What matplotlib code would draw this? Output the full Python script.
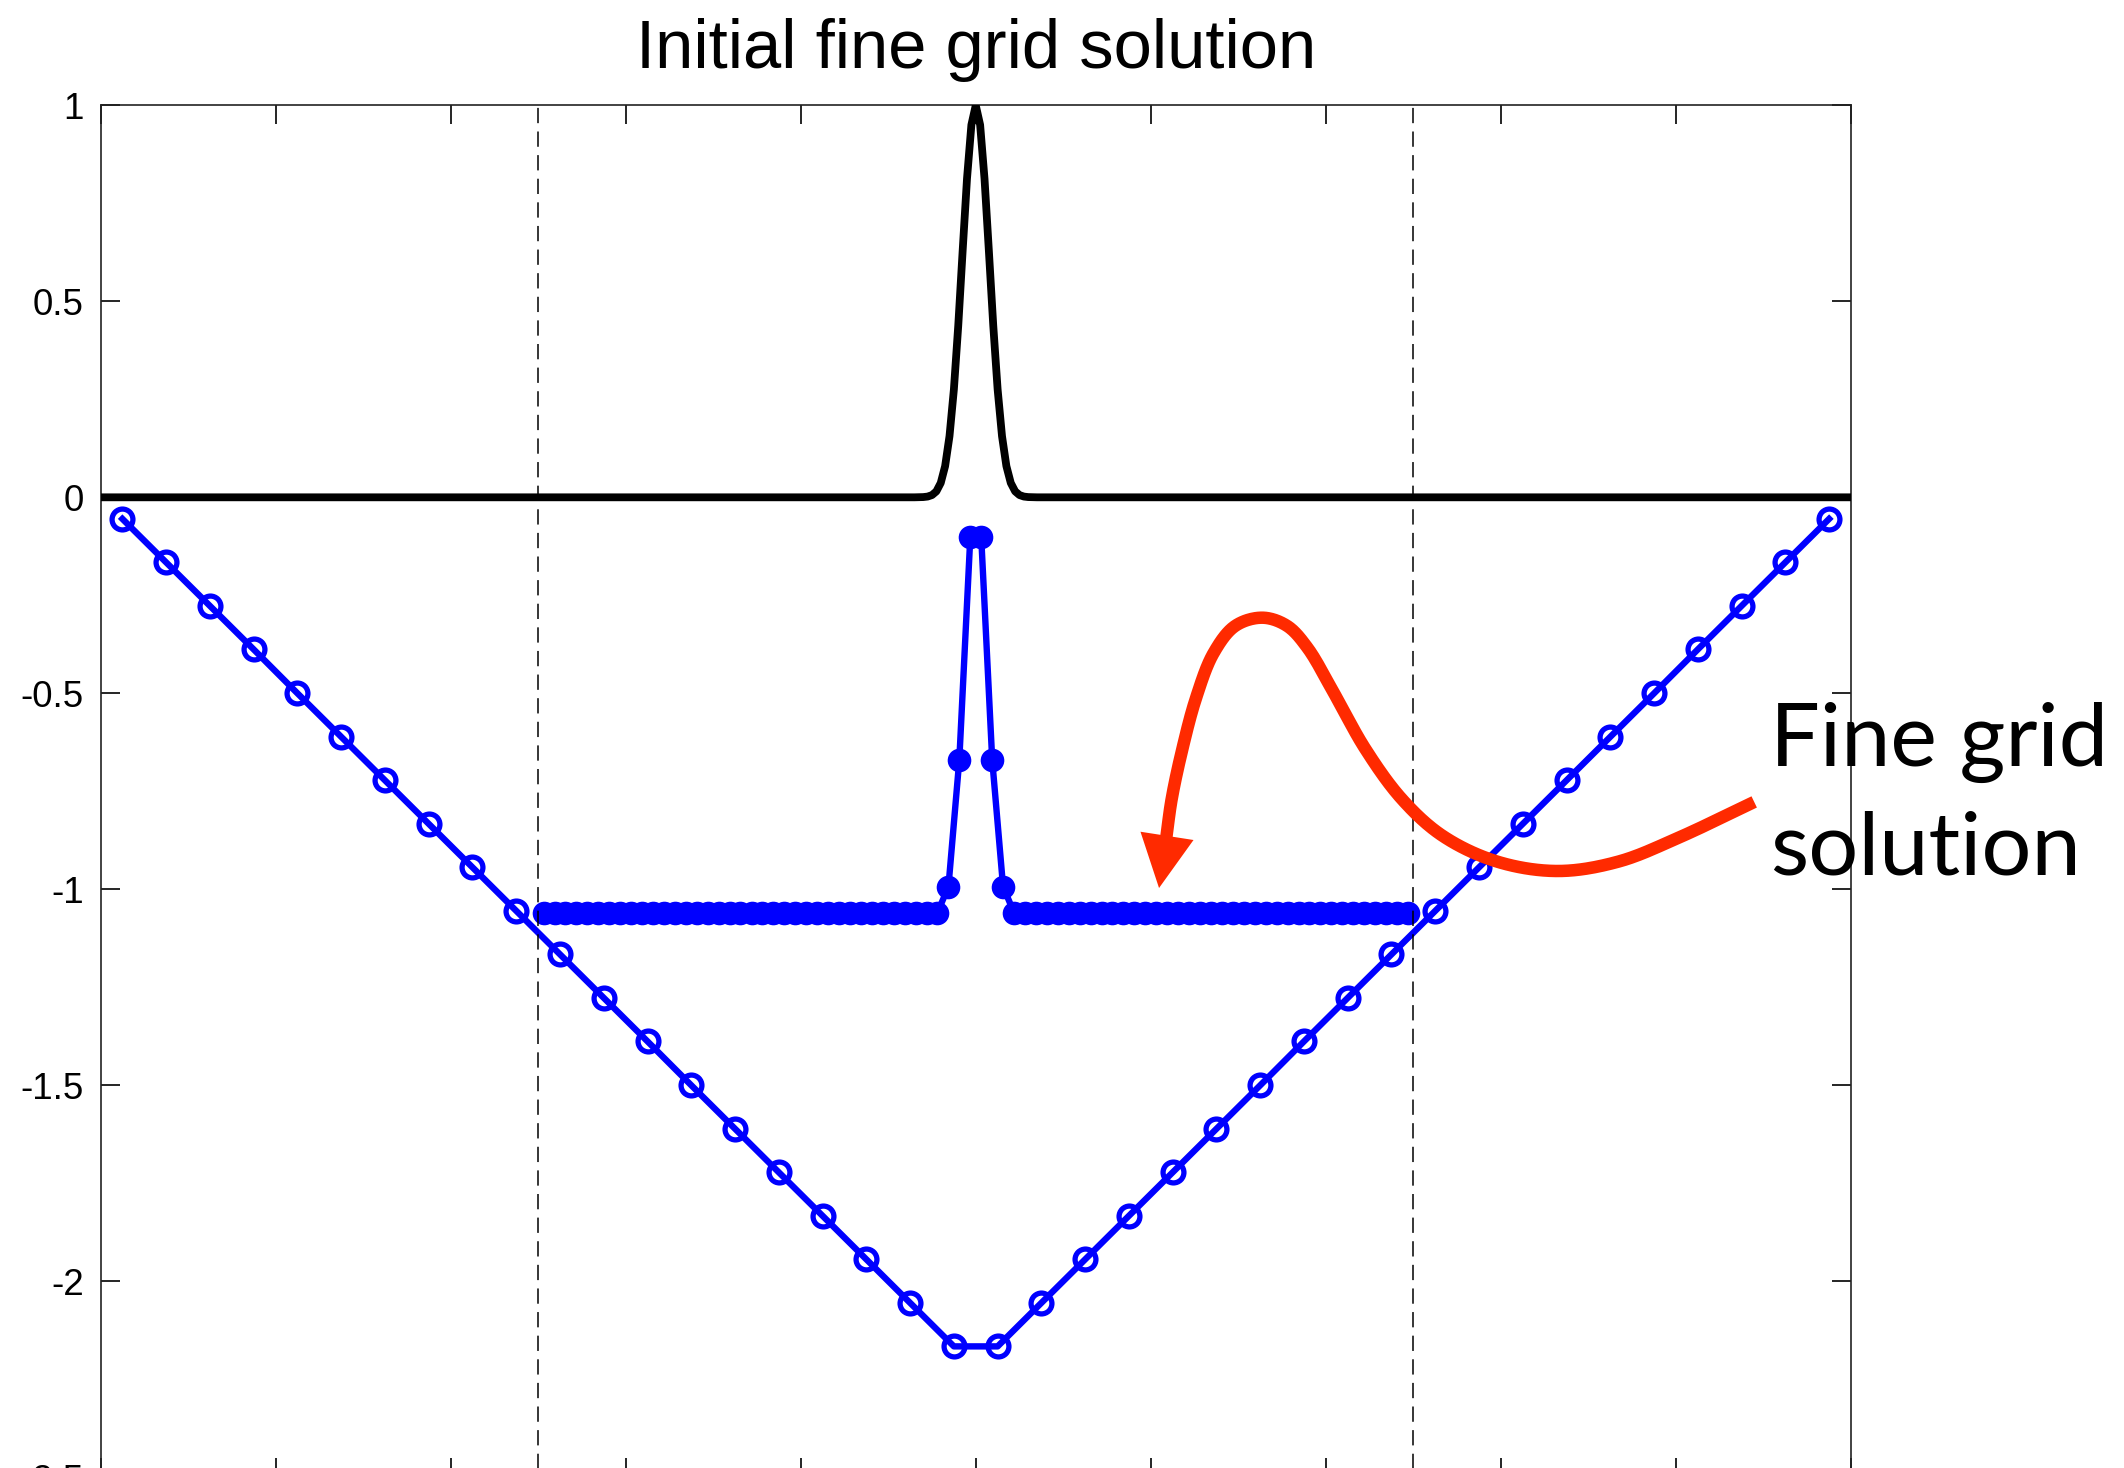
import numpy as np
import matplotlib
matplotlib.use('Agg')
import matplotlib.pyplot as plt

plt.rcParams['axes.unicode_minus'] = False
plt.rcParams['lines.scale_dashes'] = False

# ---------------- data ----------------
title = 'Initial fine grid solution'

coarse_x = [0.0125, 0.0375, 0.0625, 0.0875, 0.1125, 0.1375, 0.1625, 0.1875,
            0.2125, 0.2375, 0.2625, 0.2875, 0.3125, 0.3375, 0.3625, 0.3875,
            0.4125, 0.4375, 0.4625, 0.4875, 0.5125, 0.5375, 0.5625, 0.5875,
            0.6125, 0.6375, 0.6625, 0.6875, 0.7125, 0.7375, 0.7625, 0.7875,
            0.8125, 0.8375, 0.8625, 0.8875, 0.9125, 0.9375, 0.9625, 0.9875]
coarse_u = [-0.055, -0.166, -0.277, -0.388, -0.500, -0.611, -0.722, -0.833,
            -0.944, -1.055, -1.166, -1.277, -1.388, -1.500, -1.611, -1.722,
            -1.833, -1.944, -2.055, -2.166, -2.166, -2.055, -1.944, -1.833,
            -1.722, -1.611, -1.500, -1.388, -1.277, -1.166, -1.055, -0.944,
            -0.833, -0.722, -0.611, -0.500, -0.388, -0.277, -0.166, -0.055]

fine_x = [0.2531, 0.2594, 0.2656, 0.2719, 0.2781, 0.2844, 0.2906, 0.2969,
          0.3031, 0.3094, 0.3156, 0.3219, 0.3281, 0.3344, 0.3406, 0.3469,
          0.3531, 0.3594, 0.3656, 0.3719, 0.3781, 0.3844, 0.3906, 0.3969,
          0.4031, 0.4094, 0.4156, 0.4219, 0.4281, 0.4344, 0.4406, 0.4469,
          0.4531, 0.4594, 0.4656, 0.4719, 0.4781, 0.4844, 0.4906, 0.4969,
          0.5031, 0.5094, 0.5156, 0.5219, 0.5281, 0.5344, 0.5406, 0.5469,
          0.5531, 0.5594, 0.5656, 0.5719, 0.5781, 0.5844, 0.5906, 0.5969,
          0.6031, 0.6094, 0.6156, 0.6219, 0.6281, 0.6344, 0.6406, 0.6469,
          0.6531, 0.6594, 0.6656, 0.6719, 0.6781, 0.6844, 0.6906, 0.6969,
          0.7031, 0.7094, 0.7156, 0.7219, 0.7281, 0.7344, 0.7406, 0.7469]
fine_u = [-1.06, -1.06, -1.06, -1.06, -1.06, -1.06, -1.06, -1.06,
          -1.06, -1.06, -1.06, -1.06, -1.06, -1.06, -1.06, -1.06,
          -1.06, -1.06, -1.06, -1.06, -1.06, -1.06, -1.06, -1.06,
          -1.06, -1.06, -1.06, -1.06, -1.06, -1.06, -1.06, -1.06,
          -1.06, -1.06, -1.06, -1.06, -1.06, -0.993, -0.670, -0.100,
          -0.100, -0.670, -0.993, -1.06, -1.06, -1.06, -1.06, -1.06,
          -1.06, -1.06, -1.06, -1.06, -1.06, -1.06, -1.06, -1.06,
          -1.06, -1.06, -1.06, -1.06, -1.06, -1.06, -1.06, -1.06,
          -1.06, -1.06, -1.06, -1.06, -1.06, -1.06, -1.06, -1.06,
          -1.06, -1.06, -1.06, -1.06, -1.06, -1.06, -1.06, -1.06]

exact_x = [0.0, 0.465, 0.47, 0.4725, 0.475, 0.4775, 0.48, 0.4825, 0.485,
           0.4875, 0.49, 0.4925, 0.495, 0.4975, 0.5, 0.5025, 0.505, 0.5075,
           0.51, 0.5125, 0.515, 0.5175, 0.52, 0.5225, 0.525, 0.5275, 0.53,
           0.535, 1.0]
exact_u = [0.0, 0.0, 0.0006, 0.0019, 0.0057, 0.0152, 0.0367, 0.0796, 0.156,
           0.275, 0.438, 0.628, 0.813, 0.950, 1.0, 0.950, 0.813, 0.628,
           0.438, 0.275, 0.156, 0.0796, 0.0367, 0.0152, 0.0057, 0.0019, 0.0006,
           0.0, 0.0]

refine_bounds = [0.25, 0.75]
xticks = [0.0, 0.1, 0.2, 0.3, 0.4, 0.5, 0.6, 0.7, 0.8, 0.9, 1.0]
yticks = [-2.5, -2, -1.5, -1, -0.5, 0, 0.5, 1]
ytick_labels = ['-2.5', '-2', '-1.5', '-1', '-0.5', '0', '0.5', '1']

annot_text = ['Fine grid', 'solution']
# hand-drawn annotation arrow path (axes data coords)
arrow_path_x = [0.9447, 0.9021, 0.8673, 0.8325, 0.7977, 0.7667, 0.7435, 0.7226,
                0.7048, 0.6894, 0.6778, 0.6638, 0.6483, 0.6359, 0.6259, 0.6182,
                0.6119, 0.6088]
arrow_path_y = [-0.7771, -0.8671, -0.9291, -0.9533, -0.9291, -0.8636, -0.7702,
                -0.6423, -0.5007, -0.3832, -0.3278, -0.3071, -0.3278, -0.3970,
                -0.5110, -0.6388, -0.7702, -0.8700]
arrow_head_x = [0.6047, 0.5941, 0.6244]
arrow_head_y = [-0.9967, -0.8531, -0.8742]

# ---------------- figure ----------------
fig = plt.figure(figsize=(21.24, 14.68), dpi=100)
ax = fig.add_axes([0.04732, -0.00634, 0.82415, 0.93460])

BLUE = '#0000ff'
RED = '#ff2a00'

ax.plot(exact_x, exact_u, color='black', lw=5.6, zorder=3)
ax.plot(coarse_x, coarse_u, color=BLUE, lw=4.6, marker='o', markersize=15,
        markerfacecolor='none', markeredgewidth=3.8, markeredgecolor=BLUE,
        zorder=4)
ax.plot(fine_x, fine_u, color=BLUE, lw=4.6, marker='o', markersize=15.5,
        markerfacecolor=BLUE, markeredgecolor=BLUE, markeredgewidth=1.5,
        zorder=4)
for xb in refine_bounds:
    ax.axvline(xb, color='black', lw=1.1, ls=(0, (11, 6)), zorder=6)

ax.set_xlim(0, 1)
ax.set_ylim(-2.5, 1)
ax.set_xticks(xticks)
ax.set_xticklabels([])
ax.set_yticks(yticks)
ax.set_yticklabels(ytick_labels, family=['Liberation Sans', 'DejaVu Sans'])
ax.tick_params(direction='in', length=13.5, width=1.2, top=True, right=True,
               labelsize=26.5, pad=12, colors='black')
for sp in ax.spines.values():
    sp.set_linewidth(1.2)
    sp.set_color('#222222')

ax.set_title(title, fontsize=49.5, pad=27,
             family=['Liberation Sans', 'DejaVu Sans'])

# annotation arrow: centripetal Catmull-Rom through the traced points
px = np.array(arrow_path_x) * 1750.5
py = np.array(arrow_path_y) * 392.0
P = np.column_stack([px, py])
P = np.vstack([2 * P[0] - P[1], P, 2 * P[-1] - P[-2]])


def cr_segment(p0, p1, p2, p3, n=30, alpha=0.5):
    def tj(ti, pi, pj):
        return ti + max(np.linalg.norm(pj - pi), 1e-6) ** alpha
    t0 = 0.0
    t1 = tj(t0, p0, p1)
    t2 = tj(t1, p1, p2)
    t3 = tj(t2, p2, p3)
    out = []
    for t in np.linspace(t1, t2, n, endpoint=False):
        a1 = (t1 - t) / (t1 - t0) * p0 + (t - t0) / (t1 - t0) * p1
        a2 = (t2 - t) / (t2 - t1) * p1 + (t - t1) / (t2 - t1) * p2
        a3 = (t3 - t) / (t3 - t2) * p2 + (t - t2) / (t3 - t2) * p3
        b1 = (t2 - t) / (t2 - t0) * a1 + (t - t0) / (t2 - t0) * a2
        b2 = (t3 - t) / (t3 - t1) * a2 + (t - t1) / (t3 - t1) * a3
        c = (t2 - t) / (t2 - t1) * b1 + (t - t1) / (t2 - t1) * b2
        out.append(c)
    return out


curve = []
for i in range(1, len(P) - 2):
    curve += cr_segment(P[i - 1], P[i], P[i + 1], P[i + 2])
curve.append(P[-2])
curve = np.array(curve)
ax.plot(curve[:, 0] / 1750.5, curve[:, 1] / 392.0, color=RED, lw=9.0,
        solid_capstyle='butt', solid_joinstyle='round', zorder=8)
ax.fill(arrow_head_x, arrow_head_y, color=RED, lw=0, zorder=8)

fig.text(0.8335, 0.4782, annot_text[0], fontsize=63.5,
         family=['Lato', 'DejaVu Sans'], ha='left', va='baseline')
fig.text(0.8335, 0.4040, annot_text[1], fontsize=63.5,
         family=['Lato', 'DejaVu Sans'], ha='left', va='baseline')

fig.savefig('out.png', dpi=100)
